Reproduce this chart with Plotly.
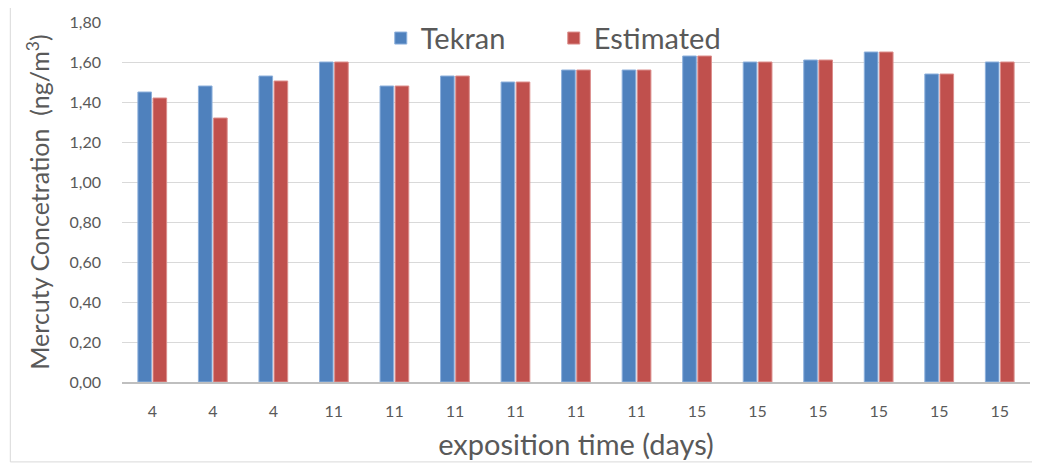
import plotly.graph_objects as go

categories = ["4", "4", "4", "11", "11", "11", "11", "11", "11", "15", "15", "15", "15", "15", "15"]
tekran = [1.45, 1.48, 1.53, 1.60, 1.48, 1.53, 1.50, 1.56, 1.56, 1.63, 1.60, 1.61, 1.65, 1.54, 1.60]
estimated = [1.42, 1.32, 1.505, 1.60, 1.48, 1.53, 1.50, 1.56, 1.56, 1.63, 1.60, 1.61, 1.65, 1.54, 1.60]
y_ticks = [0, 0.2, 0.4, 0.6, 0.8, 1.0, 1.2, 1.4, 1.6, 1.8]

xpos = list(range(len(categories)))
font_family = "Lato, Open Sans, sans-serif"
gray = "#595959"

fig = go.Figure()
fig.add_trace(go.Bar(x=xpos, y=tekran, name="Tekran",
                     marker=dict(color="#4F81BD", line=dict(color="#8DB0DC", width=1))))
fig.add_trace(go.Bar(x=xpos, y=estimated, name="Estimated",
                     marker=dict(color="#C0504D", line=dict(color="#DC8E8C", width=1))))

fig.update_layout(
    width=1032, height=459,
    margin=dict(l=114, r=10, t=14, b=85, autoexpand=False),
    paper_bgcolor="white", plot_bgcolor="white",
    separators=",.",
    barmode="group", bargap=0.5, bargroupgap=0.1,
    font=dict(family=font_family, color=gray),
    legend=dict(orientation="h", x=0.285, xanchor="left", y=0.955, yanchor="middle",
                font=dict(size=29, color=gray), bgcolor="rgba(0,0,0,0)",
                entrywidth=128, itemwidth=30),
    xaxis=dict(tickmode="array", tickvals=xpos, ticktext=categories,
               range=[-0.5, len(categories) - 0.5], automargin=False,
               showgrid=False, showline=True, linecolor="#BFBFBF", linewidth=1.5,
               ticks="", tickfont=dict(size=16, color=gray), ticklabelstandoff=14,
               title=dict(text="exposition time (days)", font=dict(size=29, color=gray), standoff=16)),
    yaxis=dict(range=[0, 1.8], tickvals=y_ticks, tickformat=".2f", automargin=False,
               showgrid=True, gridcolor="#D9D9D9", gridwidth=1, zeroline=False,
               showline=False, ticks="", tickfont=dict(size=16, color=gray), ticklabelstandoff=20,
               title=dict(text="Mercuty Concetration  (ng/m<sup>3</sup>)", font=dict(size=25, color=gray), standoff=12)),
    shapes=[dict(type="rect", xref="paper", yref="paper", x0=-0.123, x1=1.0066, y0=-0.222, y1=1.047,
                 line=dict(color="#D9D9D9", width=1), fillcolor="rgba(0,0,0,0)", layer="below")],
)

fig.write_html("out.html")
